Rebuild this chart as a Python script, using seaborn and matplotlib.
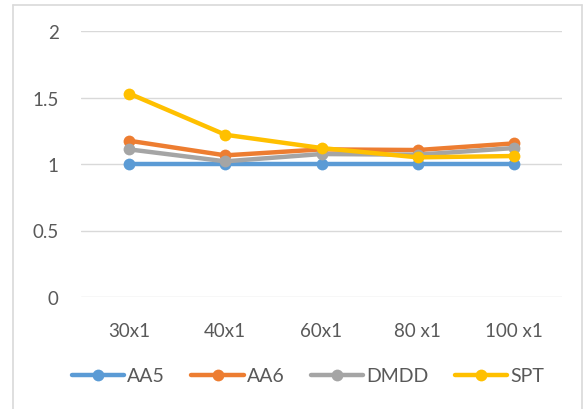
import matplotlib
matplotlib.use("Agg")
import matplotlib.pyplot as plt
from matplotlib.lines import Line2D
import seaborn as sns
import pandas as pd

categories = ["30x1", "40x1", "60x1", "80 x1", "100 x1"]
aa5 = [1.00, 1.00, 1.00, 1.00, 1.00]
aa6 = [1.175, 1.065, 1.11, 1.105, 1.155]
dmdd = [1.11, 1.02, 1.075, 1.07, 1.12]
spt = [1.53, 1.22, 1.12, 1.05, 1.06]
series_names = ["AA5", "AA6", "DMDD", "SPT"]
y_ticks = [0, 0.5, 1, 1.5, 2]
y_tick_labels = ["0", "0.5", "1", "1.5", "2"]

colors = ["#5B9BD5", "#ED7D31", "#A5A5A5", "#FFC000"]

rows = []
for name, vals in zip(series_names, [aa5, aa6, dmdd, spt]):
    for i, v in enumerate(vals):
        rows.append({"pos": i, "value": v, "series": name})
df = pd.DataFrame(rows)

sns.set_theme(style="white")
plt.rcParams["font.family"] = ["Lato", "DejaVu Sans"]

fig = plt.figure(figsize=(5.83, 4.10), dpi=100)
ax = fig.add_axes([81 / 583, 1 - 298 / 410, (562 - 81) / 583, (298 - 32) / 410])

sns.lineplot(data=df, x="pos", y="value", hue="series", hue_order=series_names,
             palette=colors, marker="o", markersize=8.5, markeredgewidth=0,
             linewidth=3.2, sort=False, legend=False, ax=ax)

ax.set_xlim(-0.5, len(categories) - 0.5)
ax.set_ylim(0, 2)
ax.set_xticks(range(len(categories)))
ax.set_xticklabels(categories)
ax.set_yticks(y_ticks)
ax.set_yticklabels(y_tick_labels)
ax.set_xlabel("")
ax.set_ylabel("")
ax.grid(axis="y", color="#D9D9D9", linewidth=1)
ax.set_axisbelow(True)
for s in ax.spines.values():
    s.set_visible(False)
ax.tick_params(axis="both", length=0, labelsize=13.5, colors="#595959")
ax.tick_params(axis="x", pad=18)
ax.tick_params(axis="y", pad=16)

handles = [Line2D([0], [0], color=c, linewidth=3.2, marker="o", markersize=8.5,
                  markeredgewidth=0) for c in colors]
leg = fig.legend(handles, series_names, loc="center", bbox_to_anchor=(308 / 583, 1 - 377 / 410),
                 ncol=4, frameon=False, fontsize=14, handlelength=2.7,
                 handletextpad=0.15, columnspacing=1.35, borderaxespad=0)
for t in leg.get_texts():
    t.set_color("#595959")

# outer chart border
border = dict(color="#D9D9D9", linewidth=1.2, transform=fig.transFigure)
fig.add_artist(Line2D([12.5 / 583, 12.5 / 583], [0, 1 - 5.5 / 410], **border))
fig.add_artist(Line2D([12.5 / 583, 582 / 583], [1 - 5.5 / 410, 1 - 5.5 / 410], **border))
fig.add_artist(Line2D([582 / 583, 582 / 583], [0, 1 - 5.5 / 410], **border))

fig.savefig("out.png", dpi=100)
